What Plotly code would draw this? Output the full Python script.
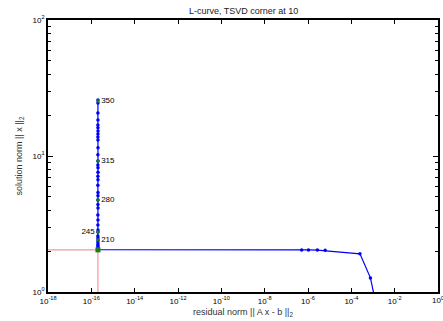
import plotly.graph_objects as go

# L-curve data (residual norm rho, solution norm eta), in order of k
rho = [1.3e-3, 7.6e-4, 2.5e-4, 6.2e-6, 2.7e-6, 1.05e-6, 5.1e-7,
       2.02e-16, 2.01e-16, 2.03e-16, 2.0e-16, 2.02e-16, 2.01e-16, 2.03e-16,
       2.02e-16, 2.0e-16, 2.02e-16, 2.03e-16, 2.01e-16, 2.02e-16, 2.0e-16,
       2.03e-16, 2.02e-16, 2.01e-16, 2.02e-16, 2.03e-16, 2.0e-16, 2.02e-16,
       2.01e-16, 2.03e-16, 2.02e-16, 2.0e-16, 2.02e-16, 2.01e-16, 2.03e-16,
       2.02e-16, 2.01e-16, 2.02e-16, 2.03e-16, 2.02e-16, 2.01e-16]
eta = [0.85, 1.27, 1.91, 2.03, 2.035, 2.04, 2.04,
       2.05, 2.10, 2.14, 2.20, 2.25, 2.33, 2.41, 2.50, 2.58, 2.76, 2.86,
       3.11, 3.38, 3.68, 4.15, 4.40, 4.75, 5.10, 5.40, 6.10, 6.70, 7.10,
       7.60, 8.20, 8.60, 9.20, 10.2, 11.5, 13.1, 13.8, 14.5, 15.3, 16.1,
       16.9]
eta_top = [18.4, 20.7, 24.5, 25.8]
rho_top = [2.02e-16, 2.01e-16, 2.02e-16, 2.02e-16]

# labelled points
lab_text = ["210", "245", "280", "315", "350"]
lab_rho = [2.02e-16, 2.02e-16, 2.02e-16, 2.02e-16, 2.02e-16]
lab_eta = [2.41, 2.76, 4.75, 9.2, 25.4]
lab_pos = ["middle right", "middle left", "middle right", "middle right", "middle right"]

# corner
corner_rho = 2.02e-16
corner_eta = 2.04
xmin, ymin = 1e-18, 1.0

x_exps = list(range(-18, 0, 2))
x_tickvals = [10.0 ** e for e in x_exps]
x_ticktext = ["10<sup>%d</sup>" % e for e in x_exps]
y_tickvals = [1, 10, 100]
y_ticktext = ["10<sup>0</sup>", "10<sup>1</sup>", "10<sup>2</sup>"]
y_minor = [m * 10 ** d for d in range(0, 2) for m in range(2, 10)]

FONT = "Liberation Sans, Arial, sans-serif"

fig = go.Figure()
# corner lines
fig.add_trace(go.Scatter(x=[xmin, corner_rho, corner_rho], y=[corner_eta, corner_eta, ymin],
                         mode="lines", line=dict(color="#f08080", width=1), showlegend=False,
                         hoverinfo="skip"))
fig.add_trace(go.Scatter(x=rho + rho_top, y=eta + eta_top, mode="lines+markers",
                         line=dict(color="#0000ff", width=1.2),
                         marker=dict(color="#0000ff", size=3.5), showlegend=False))
fig.add_trace(go.Scatter(x=lab_rho, y=lab_eta, mode="markers+text", text=lab_text,
                         textposition=lab_pos,
                         textfont=dict(family=FONT, size=8, color="black"),
                         marker=dict(color="#1a7f1a", size=3.5), showlegend=False))
fig.add_trace(go.Scatter(x=[corner_rho], y=[corner_eta], mode="markers",
                         marker=dict(color="#1a7f1a", size=5, symbol="square"), showlegend=False))

axis_common = dict(showline=True, linecolor="black", linewidth=1.8, mirror="allticks",
                   ticks="inside", tickcolor="black", showgrid=False, zeroline=False,
                   tickfont=dict(family=FONT, size=8, color="black"))

fig.update_xaxes(type="log", range=[-18, 0], tickvals=x_tickvals + [1.0],
                 ticktext=x_ticktext + [""],
                 ticklen=4, tickwidth=1,
                 title=dict(text="residual norm || A x - b ||<sub>2</sub>",
                            font=dict(family=FONT, size=9, color="#333"), standoff=4),
                 **axis_common)
fig.update_yaxes(type="log", range=[0, 2], tickvals=y_tickvals, ticktext=y_ticktext,
                 ticklen=5, tickwidth=1,
                 minor=dict(tickvals=y_minor, ticks="inside", ticklen=3, tickcolor="black"),
                 title=dict(text="solution norm || x ||<sub>2</sub>",
                            font=dict(family=FONT, size=9, color="#333"), standoff=8),
                 **axis_common)

# right-most x tick label (clipped by the page edge, as in the original)
fig.add_annotation(text="10<sup>0</sup>", xref="paper", yref="paper", x=1.0, y=0,
                   xanchor="center", yanchor="top", yshift=-1, showarrow=False,
                   font=dict(family=FONT, size=8, color="black"))

fig.update_layout(width=443, height=321, margin=dict(l=48, r=3, t=20, b=29),
                  paper_bgcolor="white", plot_bgcolor="white",
                  title=dict(text="L-curve, TSVD corner at 10", x=0.55, xanchor="center",
                             y=0.965, yanchor="middle",
                             font=dict(family=FONT, size=9, color="#222")))

fig.write_html("out.html")
